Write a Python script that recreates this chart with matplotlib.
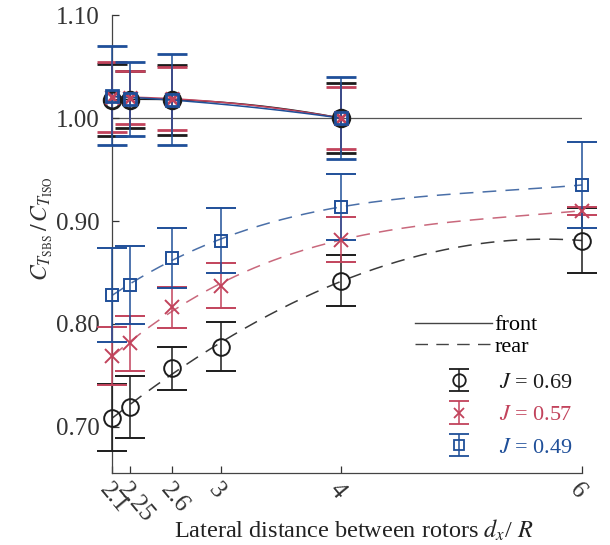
import numpy as np
import matplotlib
matplotlib.use('Agg')
import matplotlib.pyplot as plt
from matplotlib.lines import Line2D

# ------------------------------------------------------------------
# data
# ------------------------------------------------------------------
x_front = [2.1, 2.25, 2.6, 4.0]
x_rear = [2.1, 2.25, 2.6, 3.0, 4.0, 6.0]
xticks = [2.1, 2.25, 2.6, 3, 4, 6]
xtick_labels = ['2.1', '2.25', '2.6', '3', '4', '6']
yticks = [0.70, 0.80, 0.90, 1.00, 1.10]

labels = ['$J$ = 0.69', '$J$ = 0.57', '$J$ = 0.49']

front_069 = [1.018, 1.018, 1.018, 1.000]
front_057 = [1.021, 1.020, 1.019, 1.000]
front_049 = [1.022, 1.019, 1.018, 1.000]
front_err_069 = [0.035, 0.028, 0.034, 0.034]
front_err_057 = [0.034, 0.026, 0.031, 0.030]
front_err_049 = [0.048, 0.036, 0.044, 0.040]

rear_069 = [0.709, 0.719, 0.757, 0.778, 0.842, 0.881]
rear_057 = [0.769, 0.781, 0.816, 0.837, 0.882, 0.910]
rear_049 = [0.828, 0.838, 0.864, 0.881, 0.914, 0.935]
rear_err_069 = [0.033, 0.030, 0.021, 0.024, 0.025, 0.032]
rear_err_057 = [0.028, 0.027, 0.020, 0.022, 0.022, 0.004]
rear_err_049 = [0.046, 0.038, 0.029, 0.032, 0.032, 0.042]

colors = ['#1c1c1c', '#c2435c', '#1f4f99']
dash_colors = ['#3a3a3a', '#c9687c', '#4a6fa8']
markers = ['o', 'x', 's']
msizes = [12, 10, 9]

plt.rcParams['font.family'] = ['Liberation Serif', 'DejaVu Serif']
plt.rcParams['mathtext.fontset'] = 'stix'


def smooth(x, y, deg):
    # smooth fitted curve through the measured points
    c = np.polyfit(x, y, deg)
    xs = np.linspace(min(x), max(x), 200)
    return xs, np.polyval(c, xs)


def no_clip(container):
    for art in container.get_children():
        art.set_clip_on(False)


fig = plt.figure(figsize=(6.1, 5.45), dpi=100)
ax = fig.add_axes([0.184, 0.132, 0.770, 0.840])

ax.axhline(1.0, color='#555555', lw=0.9, zorder=1)

fronts = [front_069, front_057, front_049]
front_errs = [front_err_069, front_err_057, front_err_049]
rears = [rear_069, rear_057, rear_049]
rear_errs = [rear_err_069, rear_err_057, rear_err_049]

handles = []
for i in range(3):
    c = colors[i]
    # front rotor
    xs, ys = smooth(x_front, fronts[i], 2)
    ax.plot(xs, ys, color=c, lw=1.1, zorder=2)
    e = ax.errorbar(x_front, fronts[i], yerr=front_errs[i], fmt=markers[i],
                    color=c, mfc='none', ms=msizes[i], mew=2.0, elinewidth=1.1,
                    capsize=11, capthick=2.2, zorder=3)
    no_clip(e)
    # rear rotor
    xs, ys = smooth(x_rear, rears[i], 3)
    ax.plot(xs, ys, color=dash_colors[i], lw=1.1, dashes=(9, 6), zorder=2)
    e = ax.errorbar(x_rear, rears[i], yerr=rear_errs[i], fmt=markers[i],
                    color=c, mfc='none', ms=msizes[i], mew=1.4, elinewidth=1.1,
                    capsize=11, capthick=2.2, zorder=3)
    no_clip(e)
    # smaller proxy for the legend (nan point, not drawn in the axes)
    h = ax.errorbar([np.nan], [np.nan], yerr=[0.01], fmt=markers[i], color=c,
                    mfc='none', ms=msizes[i] * 0.75, mew=1.3, elinewidth=1.1,
                    capsize=7, capthick=2.0)
    handles.append(h)

ax.set_xlim(2.1, 6.0)
ax.set_ylim(0.655, 1.10)
ax.set_xticks(xticks)
ax.set_xticklabels(xtick_labels, rotation=-50, ha='left', va='top',
                   rotation_mode='anchor', fontsize=18)
ax.set_yticks(yticks)
ax.set_yticklabels(['%.2f' % v for v in yticks], fontsize=18, color='#333333')
ax.tick_params(direction='in', length=5, width=0.9, colors='#333333')
ax.tick_params(axis='y', pad=9)
ax.tick_params(axis='x', pad=4)

for s in ['top', 'right']:
    ax.spines[s].set_visible(False)
for s in ['left', 'bottom']:
    ax.spines[s].set_color('#444444')
    ax.spines[s].set_linewidth(0.9)

ax.set_ylabel(r'$C_{T_{\mathrm{SBS}}}\,/\,C_{T_{\mathrm{ISO}}}$', fontsize=17,
              color='#333333')
ax.yaxis.set_label_coords(-0.122, 0.535)
fig.text(354 / 610, 1 - 530 / 545, r'Lateral distance between rotors $d_x$/ $R$',
         fontsize=17.5, ha='center', va='center', color='#222222')

# legend: line styles
style_handles = [Line2D([], [], color='#444444', lw=1.0),
                 Line2D([], [], color='#444444', lw=1.0, dashes=(9, 6))]
leg1 = ax.legend(style_handles, ['front', 'rear'], loc='upper left',
                 bbox_to_anchor=(0.62, 0.37), frameon=False, fontsize=16,
                 handlelength=3.5, handletextpad=0.1, labelspacing=0.05,
                 borderpad=0)
ax.add_artist(leg1)

# legend: advance ratios
leg2 = ax.legend(handles, labels, loc='upper left',
                 bbox_to_anchor=(0.695, 0.245), frameon=False, fontsize=16,
                 handlelength=0.8, handletextpad=1.4, labelspacing=0.55,
                 borderpad=0)
for t, c in zip(leg2.get_texts(), colors):
    t.set_color(c)

fig.savefig('out.png', dpi=100)
